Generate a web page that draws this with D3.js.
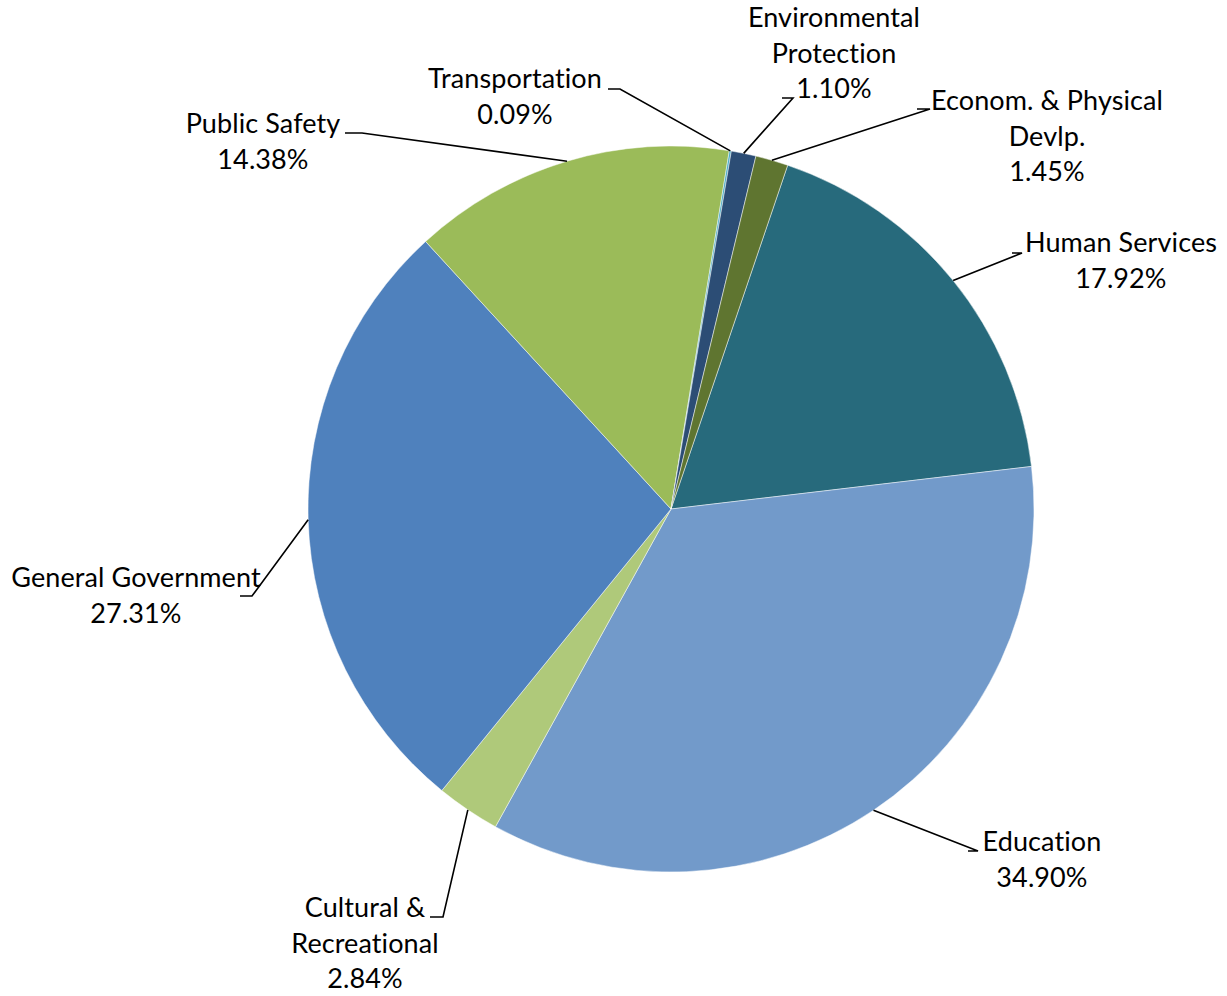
<!DOCTYPE html>
<html>
<head>
<meta charset="utf-8">
<script src="https://cdn.jsdelivr.net/npm/d3@7"></script>
<style>
  html, body { margin: 0; padding: 0; background: #ffffff; }
  svg { display: block; }
  text { font-family: Lato, "Open Sans", sans-serif; fill: #000; letter-spacing: 0.1px;
         font-variant-ligatures: none; font-feature-settings: "liga" 0, "clig" 0, "dlig" 0; }
</style>
</head>
<body>
<svg id="chart" width="1227" height="996"></svg>
<script>
// ---- data ----
const categories = [
  "Human Services",
  "Education",
  "Cultural & Recreational",
  "General Government",
  "Public Safety",
  "Transportation",
  "Environmental Protection",
  "Econom. & Physical Devlp."
];
const values = [17.92, 34.90, 2.84, 27.31, 14.38, 0.09, 1.10, 1.45];
const colors = ["#276A7C", "#729ACA", "#AFC97A", "#4F81BD", "#9BBB59", "#4BACC6", "#2C4D75", "#5F7530"];

// label text split into display lines
const labelLines = [
  ["Human Services"],
  ["Education"],
  ["Cultural &", "Recreational"],
  ["General Government"],
  ["Public Safety"],
  ["Transportation"],
  ["Environmental", "Protection"],
  ["Econom. & Physical", "Devlp."]
];

// ---- layout ----
const cx = 671, cy = 509, radius = 363;
const startDeg = 18.75;
const fontSize = 27;
const lineH = 35.5;
// label anchor: text centre x, first baseline y; leader elbow and end points
const labelLayout = [
  { x: 1121, y: 252, elbow: [1022, 253], end: [1012, 253] },
  { x: 1042, y: 851, elbow: [978, 851],  end: [968, 851] },
  { x: 365,  y: 917, elbow: [443, 917],  end: [430, 917] },
  { x: 136,  y: 587, elbow: [252, 596],  end: [240, 596] },
  { x: 263,  y: 133, elbow: [362, 133],  end: [345, 133] },
  { x: 515,  y: 88,  elbow: [620, 89],   end: [608, 89] },
  { x: 834,  y: 27,  elbow: [793, 98],   end: [782, 98] },
  { x: 1047, y: 110, elbow: [930, 109],  end: [917, 109] }
];

const svg = d3.select("#chart");
const g = svg.append("g").attr("transform", `translate(${cx},${cy})`);

const data = categories.map((c, i) => ({ name: c, value: values[i], color: colors[i], lines: labelLines[i], lay: labelLayout[i] }));

const start = startDeg * Math.PI / 180;
const pie = d3.pie().value(d => d.value).sort(null)
  .startAngle(start).endAngle(start + 2 * Math.PI);
const arcs = pie(data);

const arc = d3.arc().innerRadius(0).outerRadius(radius);
const rimArc = d3.arc().innerRadius(radius).outerRadius(radius);

g.selectAll("path.slice").data(arcs).join("path")
  .attr("class", "slice")
  .attr("d", arc)
  .attr("fill", d => d.data.color)
  .attr("stroke", "#ffffff")
  .attr("stroke-opacity", 0.6)
  .attr("stroke-width", 0.8);

const fmt = d3.format(".2f");

// leader lines
svg.selectAll("polyline.leader").data(arcs).join("polyline")
  .attr("class", "leader")
  .attr("fill", "none")
  .attr("stroke", "#000")
  .attr("stroke-width", 1.6)
  .attr("points", d => {
    const c = rimArc.centroid(d);
    const p0 = [cx + c[0], cy + c[1]];
    const L = d.data.lay;
    return [p0, L.elbow, L.end].map(p => p.join(",")).join(" ");
  });

// labels
const lab = svg.selectAll("text.label").data(arcs).join("text")
  .attr("class", "label")
  .attr("text-anchor", "middle")
  .attr("font-size", fontSize)
  .attr("x", d => d.data.lay.x)
  .attr("y", d => d.data.lay.y);

lab.each(function(d) {
  const t = d3.select(this);
  const lines = d.data.lines.concat([fmt(d.data.value) + "%"]);
  lines.forEach((ln, i) => {
    t.append("tspan").attr("x", d.data.lay.x).attr("y", d.data.lay.y + i * lineH).text(ln);
  });
});
</script>
</body>
</html>
